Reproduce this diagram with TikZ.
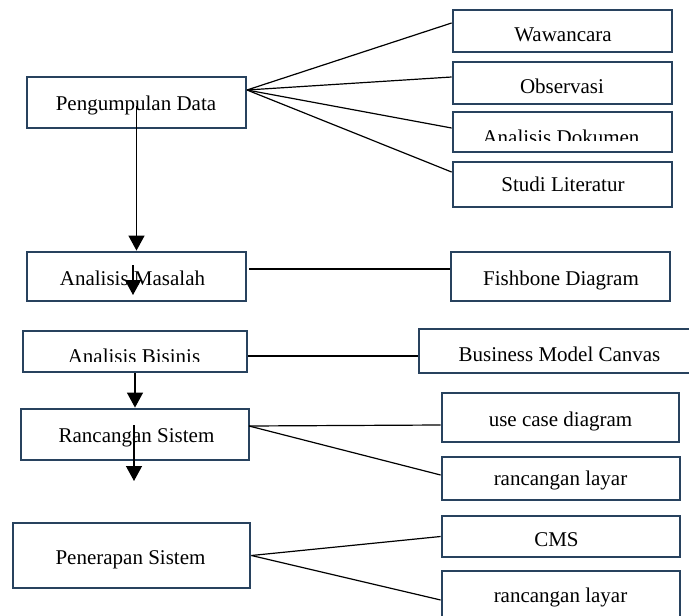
\documentclass[tikz,border=0pt]{standalone}
\usepackage{fontspec}
\setmainfont{Liberation Serif}
\usetikzlibrary{arrows.meta}
\definecolor{boxblue}{RGB}{40,66,94}
\tikzset{
  box/.style={draw=boxblue, line width=2.8pt, fill=white, rectangle, inner sep=0pt},
  txt/.style={anchor=base, inner sep=0pt, font=\fontsize{21}{25}\selectfont},
  link/.style={draw=black, line width=1.2pt},
  flow/.style={draw=black, line width=1.3pt, -{Triangle[width=16pt,length=15pt]}}
}
\begin{document}
\begin{tikzpicture}[x=1pt, y=-1pt]
\useasboundingbox (0,0) rectangle (689,616);
\clip (0,0) rectangle (689,616);

% main process boxes (left column)
\node[box, minimum width=219pt, minimum height=51pt] (pd) at (136.5,102.5) {};
\node[box, minimum width=219pt, minimum height=49pt] (am) at (136.5,276.5) {};
\node[box, minimum width=224pt, minimum height=41pt] (ab) at (135,351.5) {};
\node[box, minimum width=228pt, minimum height=51pt] (rs) at (135,434.5) {};
\node[box, minimum width=237pt, minimum height=65pt] (ps) at (131.5,555.5) {};

% detail boxes (right column)
\node[box, minimum width=219pt, minimum height=42pt] (ww) at (562.5,31) {};
\node[box, minimum width=219pt, minimum height=42pt] (ob) at (562.5,83) {};
\node[box, minimum width=219pt, minimum height=40pt] (ad) at (562.5,132) {};
\node[box, minimum width=219pt, minimum height=45pt] (sl) at (562.5,184.5) {};
\node[box, minimum width=219pt, minimum height=49pt] (fd) at (560.5,276.5) {};
\node[box, minimum width=281pt, minimum height=44pt] (bmc) at (559.5,351) {};
\node[box, minimum width=237pt, minimum height=49pt] (uc) at (560.5,417.5) {};
\node[box, minimum width=238pt, minimum height=43pt] (rl1) at (561,478.5) {};
\node[box, minimum width=238pt, minimum height=41pt] (cms) at (561,536.5) {};
\node[box, minimum width=238pt, minimum height=54pt] (rl2) at (561,598) {};

% labels
\node[txt] (pdt) at (136,110) {Pengumpulan Data};
\node[txt] (amt) at (132.5,285) {Analisis Masalah};
\begin{scope}
  \clip (20,330) rectangle (250,361);
  \node[txt] (abt) at (134,363) {Analisis Bisinis};
\end{scope}
\node[txt] (rst) at (136.5,442) {Rancangan Sistem};
\node[txt] (pst) at (130.5,564) {Penerapan Sistem};

\node[txt] (wwt) at (563,41) {Wawancara};
\node[txt] (obt) at (562,93) {Observasi};
\begin{scope}
  \clip (450,110) rectangle (675,140);
  \node[txt] (adt) at (561,144) {Analisis Dokumen};
\end{scope}
\node[txt] (slt) at (563,191) {Studi Literatur};
\node[txt] (fdt) at (561,285) {Fishbone Diagram};
\node[txt] (bmct) at (559.5,361) {Business Model Canvas};
\node[txt] (uct) at (560.5,426) {use case diagram};
\node[txt] (rl1t) at (560.5,485) {rancangan layar};
\node[txt] (cmst) at (556.5,546.5) {CMS};
\node[txt] (rl2t) at (560.5,602.5) {rancangan layar};

% connectors to the detail boxes
\coordinate (pdj) at (247,90);
\draw[link] (pdj) -- ([yshift=8pt]ww.west);
\draw[link] (pdj) -- ([yshift=6pt]ob.west);
\draw[link] (pdj) -- ([yshift=4pt]ad.west);
\draw[link] (pdj) -- ([yshift=12.5pt]sl.west);
\draw[link] ([xshift=2pt,yshift=7.5pt]am.east) -- ([yshift=7.5pt]fd.west);
\draw[link] ([yshift=-4.5pt]ab.east) -- ([yshift=-5pt]bmc.west);
\coordinate (rsj) at (249,426);
\draw[link] (rsj) -- ([yshift=-7.5pt]uc.west);
\draw[link] (rsj) -- ([yshift=3.5pt]rl1.west);
\draw[link] (ps.east) -- (cms.west);
\draw[link] (ps.east) -- ([yshift=-2pt]rl2.west);

% flow arrows
\coordinate (pd0) at (136.5,106);
\draw[flow] (pd0) -- (am.north);
\coordinate (am1) at (133,265);
\coordinate (am2) at (133,295);
\draw[flow] (am1) -- (am2);
\draw[flow] (ab.south) -- (rs.north);
\coordinate (rs1) at (134,425);
\coordinate (rs2) at (134,481);
\draw[flow] (rs1) -- (rs2);
\end{tikzpicture}
\end{document}
